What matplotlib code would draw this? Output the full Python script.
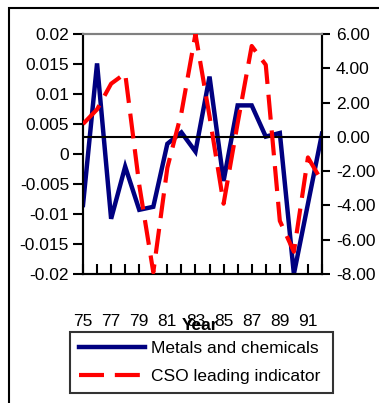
import matplotlib

matplotlib.use("Agg")
import matplotlib.pyplot as plt
from matplotlib.lines import Line2D
from matplotlib.patches import Rectangle

plt.rcParams["font.family"] = ["Liberation Sans", "DejaVu Sans"]

# data
years = list(range(75, 93))
year_labels = [str(y) if y % 2 == 1 else "" for y in years]
metals_chemicals = [-0.0085, 0.0151, -0.0108, -0.0021, -0.0093, -0.0088, 0.0017, 0.0036, 0.0004,
                    0.0129, -0.0045, 0.0081, 0.0081, 0.0029, 0.0035, -0.0200, -0.0083, 0.0034]
cso_leading = [0.75, 1.6, 3.1, 3.7, -2.8, -7.9, -1.8, 1.4, 6.0,
               1.2, -3.9, 0.8, 5.3, 4.2, -4.9, -6.7, -1.2, -2.6]
left_ticks = [-0.02, -0.015, -0.01, -0.005, 0, 0.005, 0.01, 0.015, 0.02]
left_labels = ["-0.02", "-0.015", "-0.01", "-0.005", "0", "0.005", "0.01", "0.015", "0.02"]
right_ticks = [-8, -6, -4, -2, 0, 2, 4, 6]
right_labels = ["-8.00", "-6.00", "-4.00", "-2.00", "0.00", "2.00", "4.00", "6.00"]

W, H = 379, 403
fs = 12.5
fig = plt.figure(figsize=(W / 100, H / 100), dpi=100)

# outer chart-area border (clipped at right/bottom like the original)
fig.patches.append(Rectangle((9 / W, -0.1), 1.2, 1 - 8 / H + 0.1, transform=fig.transFigure,
                             fill=False, edgecolor="black", lw=1.5, clip_on=False))

ax = fig.add_axes([83 / W, 1 - 274 / H, (322 - 83) / W, (274 - 34) / H])
ax2 = ax.twinx()

ax.plot(years, metals_chemicals, color="#000080", lw=3.2, solid_joinstyle="miter", zorder=3)
ax2.plot(years, cso_leading, color="#ff0000", lw=3.0, dashes=(6, 2.6), zorder=3)
ax2.axhline(0, color="black", lw=1.5, zorder=2)

ax.set_xlim(75, 92)
ax.set_ylim(-0.02, 0.02)
ax2.set_ylim(-8, 6)

ax.set_yticks(left_ticks)
ax.set_yticklabels(left_labels, fontsize=fs)
ax2.set_yticks(right_ticks)
ax2.set_yticklabels(right_labels, fontsize=fs)
ax.set_xticks(years)
ax.set_xticklabels(year_labels, fontsize=fs)

ax.tick_params(axis="y", direction="out", length=7, width=1.5, pad=3)
ax2.tick_params(axis="y", direction="out", length=6, width=1.5, pad=4)
ax.tick_params(axis="x", direction="in", length=7, width=1.5, pad=28.5)
ax2.tick_params(axis="x", bottom=False, top=False)

for a in (ax, ax2):
    for s in ("left", "right", "bottom"):
        a.spines[s].set_linewidth(1.5)
        a.spines[s].set_color("black")
    a.spines["top"].set_color("#808080")
    a.spines["top"].set_linewidth(1.5)

fig.text(200 / W, 1 - 325 / H, "Year", ha="center", va="center", fontsize=fs, weight="bold")

handles = [Line2D([], [], color="#000080", lw=3.2),
           Line2D([], [], color="#ff0000", lw=3.0, dashes=(6, 2.6))]
leg = fig.legend(handles, ["Metals and chemicals", "CSO leading indicator"],
                 loc="upper left", bbox_to_anchor=(70 / W, 1 - 395 / H, 263 / W, 63 / H),
                 mode="expand", fontsize=fs,
                 frameon=True, fancybox=False, handlelength=3.8, handletextpad=0.35,
                 borderpad=0.5, labelspacing=0.75, borderaxespad=0)
leg.get_frame().set_edgecolor("black")
leg.get_frame().set_linewidth(1.5)

fig.savefig("out.png", dpi=100)
